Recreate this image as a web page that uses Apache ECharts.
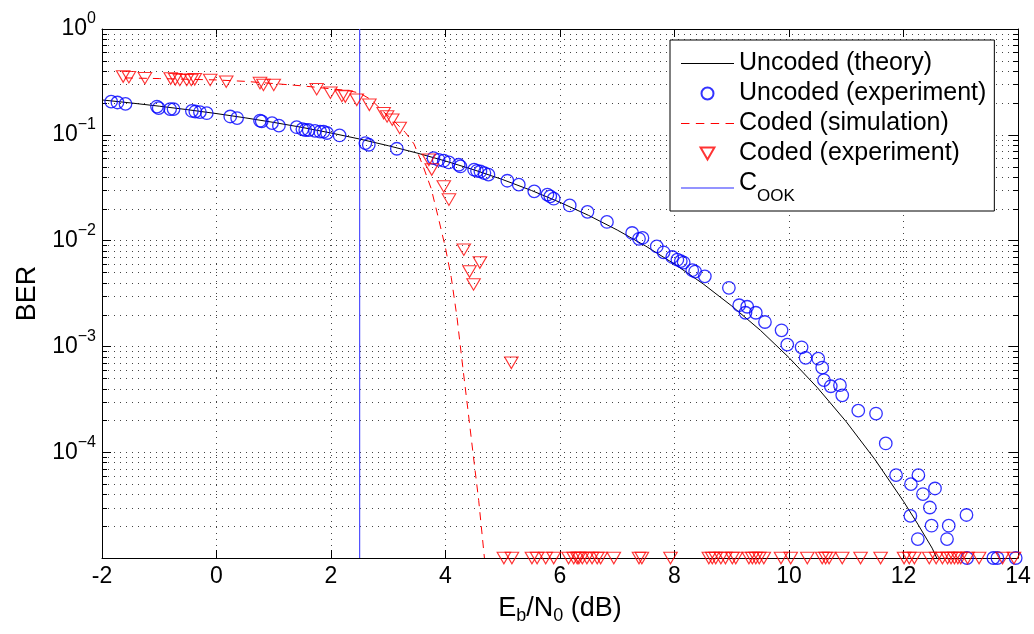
<!DOCTYPE html>
<html><head><meta charset="utf-8">
<script src="https://cdn.jsdelivr.net/npm/echarts@6/dist/echarts.min.js"></script>
<style>html,body{margin:0;padding:0;background:#fff}#c{width:1034px;height:634px}</style>
</head><body><div id="c"></div>
<script>
const FONT = '"Liberation Sans", Arial, Helvetica, sans-serif';

// ---- data ----
const floorBER = 1e-5;
const xTickLabels = ['-2','0','2','4','6','8','10','12','14'];
const yTickExponents = [0, -1, -2, -3, -4];

const theoryX = [-2,-1.5,-1,-0.5,0,0.5,1,1.5,2,2.5,3,3.5,4,4.5,5,5.5,6,6.5,7,7.5,8,8.5,9,9.5,10,10.5,11,11.5,12,12.25,12.5,12.58];
const theoryY = [0.2135,0.2001,0.1864,0.1726,0.1587,0.1447,0.1309,0.1173,0.1040,0.0912,0.0789,0.0673,0.0565,0.0466,0.0377,0.0298,0.0230,0.0173,0.01259,0.00886,0.00600,0.00390,0.00241,0.00142,7.83e-4,4.05e-4,1.94e-4,8.55e-5,3.43e-5,2.09e-5,1.24e-5,1.0e-5];

const simX = [-1.6,-1.0,-0.5,0,0.5,1.0,1.5,2.0,2.3,2.5,2.7,2.9,3.1,3.3,3.45,3.6,3.75,3.88,4.0,4.1,4.2,4.3,4.4,4.5,4.58,4.68];
const simY = [0.345,0.34,0.335,0.33,0.32,0.305,0.29,0.272,0.262,0.248,0.215,0.168,0.135,0.105,0.082,0.052,0.031,0.016,0.0085,0.0045,0.0019,6.5e-4,2.3e-4,8e-5,3.5e-5,1e-5];

const uncExpX = [-1.84,-1.73,-1.59,-1.04,-1.01,-0.81,-0.75,-0.43,-0.37,-0.29,-0.17,0.24,0.36,0.76,0.79,0.97,1.09,1.40,1.50,1.55,1.61,1.72,1.81,1.87,1.93,2.15,2.60,2.66,3.15,3.79,3.88,3.97,4.06,4.23,4.26,4.50,4.55,4.61,4.68,4.75,5.08,5.28,5.55,5.78,5.83,5.89,6.17,6.48,6.82,7.26,7.38,7.44,7.69,7.81,7.96,8.05,8.11,8.16,8.31,8.36,8.53,8.95,9.13,9.24,9.27,9.42,9.58,9.87,9.97,10.22,10.29,10.51,10.58,10.61,10.73,10.89,10.93,11.21,11.52,11.69,11.87,12.13,12.26,12.34,12.55,12.46,12.12,12.49,12.79,13.10,12.25,12.76];
const uncExpY = [0.206,0.202,0.196,0.185,0.179,0.175,0.175,0.168,0.166,0.164,0.160,0.149,0.144,0.136,0.134,0.129,0.122,0.118,0.113,0.111,0.111,0.109,0.107,0.107,0.104,0.0986,0.0835,0.0805,0.0738,0.0603,0.058,0.0569,0.0548,0.0521,0.0502,0.0468,0.0457,0.045,0.0435,0.042,0.0368,0.0338,0.0292,0.0272,0.0262,0.0249,0.0215,0.0187,0.015,0.0118,0.0104,0.0106,0.0088,0.00775,0.0070,0.0066,0.0064,0.0062,0.00525,0.0051,0.0046,0.00358,0.00245,0.00208,0.00237,0.00208,0.0017,0.00142,0.00104,0.00098,0.00078,0.000765,0.00063,0.00048,0.00042,0.00043,0.000345,0.000247,0.000232,0.000121,6.07e-5,4.99e-5,6.07e-5,4.02e-5,4.54e-5,3.0e-5,2.5e-5,2.02e-5,2.02e-5,2.55e-5,1.51e-5,1.51e-5];
const uncFloorX = [13.11,13.57,13.64,13.96];

const codExpX = [-1.63,-1.53,-1.25,-0.80,-0.72,-0.64,-0.52,-0.44,-0.38,-0.11,0.17,0.76,0.82,1.00,1.75,1.99,2.19,2.25,2.45,2.67,2.92,2.98,3.07,3.20,3.71,3.76,3.97,4.06,4.32,4.42,4.49,4.60,5.15];
const codExpY = [0.355,0.35,0.343,0.34,0.335,0.33,0.33,0.33,0.335,0.33,0.318,0.308,0.296,0.296,0.27,0.25,0.233,0.23,0.214,0.192,0.16,0.149,0.139,0.116,0.058,0.047,0.0325,0.0244,0.0082,0.0051,0.00385,0.0062,0.0007];
const codFloorX = [5.02,5.16,5.51,5.60,5.75,5.89,6.15,6.24,6.30,6.33,6.39,6.47,6.56,6.65,6.71,6.94,7.38,7.43,7.93,8.60,8.66,8.72,8.81,8.89,9.01,9.07,9.30,9.36,9.42,9.48,9.56,9.86,10.03,10.32,10.58,10.64,10.70,10.93,11.25,11.60,12.01,12.10,12.19,12.45,12.57,12.68,12.77,12.83,12.89,12.95,13.00,13.12,13.32,13.73,13.93];

const cookX = 2.5;
const seriesNames = ['Uncoded (theory)','Uncoded (experiment)','Coded (simulation)','Coded (experiment)','C_OOK'];

// ---- build ----
const zip = (xs, ys) => xs.map((x, i) => [x, ys[i]]);
const theoryData = zip(theoryX, theoryY);
const simData = zip(simX, simY);
const uncData = zip(uncExpX, uncExpY).concat(uncFloorX.map(x => [x, floorBER]));
const codData = zip(codExpX, codExpY).concat(codFloorX.map(x => [x, floorBER]));
const cookData = [[cookX, floorBER], [cookX, 1]];

const minorVals = [];
for (let e = -5; e < 0; e++) for (let m = 2; m <= 9; m++) minorVals.push(m * Math.pow(10, e));

const gridDot = { type: [1, 5], color: '#444', width: 1 };
const axisBlack = { color: '#000', width: 1 };
const solidIcon = 'path://M0,0h53v1h-53z';
const dashIcon = 'path://M0,0h8v1h-8z M14,0h8v1h-8z M28,0h8v1h-8z M42,0h8v1h-8z';

const yLabelFmt = v => {
  const e = Math.round(Math.log10(v));
  if (yTickExponents.indexOf(e) < 0) return '';
  return '{b|10}{s|' + (e < 0 ? '\u2212' + (-e) : String(e)) + '}';
};

const chart = echarts.init(document.getElementById('c'), null, { renderer: 'canvas' });
chart.setOption({
  animation: false,
  backgroundColor: '#fff',
  textStyle: { fontFamily: FONT },
  grid: { left: 102, right: 16, top: 29, bottom: 76, containLabel: false },
  xAxis: [{
    type: 'value', min: -2, max: 14, interval: 2, position: 'bottom',
    axisLine: { show: true, onZero: false, lineStyle: axisBlack },
    axisTick: { show: true, inside: true, length: 8, lineStyle: axisBlack },
    splitLine: { show: true, lineStyle: gridDot },
    axisLabel: { color: '#000', fontSize: 23, fontFamily: FONT, margin: 7,
      formatter: v => xTickLabels[Math.round((v + 2) / 2)] },
    name: '{a|E}{s|b}{a|/N}{s|0}{a| (dB)}', nameLocation: 'middle', nameGap: 35,
    nameTextStyle: { color: '#000', fontFamily: FONT, fontSize: 27,
      rich: { a: { fontSize: 27, lineHeight: 27, fontFamily: FONT, color: '#000' },
              s: { fontSize: 18, lineHeight: 27, fontFamily: FONT, color: '#000', padding: [14, 0, 0, 0] } } }
  }, {
    type: 'value', min: -2, max: 14, interval: 2, position: 'top',
    axisLine: { show: true, onZero: false, lineStyle: axisBlack },
    axisTick: { show: true, inside: true, length: 8, lineStyle: axisBlack },
    splitLine: { show: false }, axisLabel: { show: false }
  }],
  yAxis: [{
    type: 'log', logBase: 10, min: 1e-5, max: 1, position: 'left',
    axisLine: { show: true, onZero: false, lineStyle: axisBlack },
    axisTick: { show: true, inside: true, length: 9, lineStyle: axisBlack },
    splitLine: { show: true, lineStyle: gridDot },
    axisLabel: { color: '#000', margin: 6, formatter: yLabelFmt,
      rich: { b: { fontSize: 23, lineHeight: 23, fontFamily: FONT, color: '#000' },
              s: { fontSize: 16, lineHeight: 23, fontFamily: FONT, color: '#000', padding: [0, 0, 20, 0] } } },
    name: 'BER', nameLocation: 'middle', nameGap: 60, nameRotate: 90,
    nameTextStyle: { color: '#000', fontFamily: FONT, fontSize: 27 }
  }, {
    type: 'log', logBase: 10, min: 1e-5, max: 1, position: 'right',
    axisLine: { show: true, onZero: false, lineStyle: axisBlack },
    axisTick: { show: true, inside: true, length: 9, lineStyle: axisBlack },
    splitLine: { show: false }, axisLabel: { show: false }
  }],
  legend: {
    data: [
      { name: seriesNames[0], icon: solidIcon, itemStyle: { color: '#000000', borderWidth: 0 } },
      { name: seriesNames[1] },
      { name: seriesNames[2], icon: dashIcon, itemStyle: { color: '#ff0000', borderWidth: 0 } },
      { name: seriesNames[3] },
      { name: seriesNames[4], icon: solidIcon, itemStyle: { color: '#2a2aff', borderWidth: 0 } }
    ],
    orient: 'vertical', left: 670, top: 40,
    backgroundColor: '#fff', borderColor: '#000', borderWidth: 1, borderRadius: 0,
    padding: [11, 8, 6, 11], itemGap: 5, itemWidth: 53, itemHeight: 12,
    selectedMode: false,
    formatter: n => n === 'C_OOK' ? '{c|C}{o|OOK}' : '{t|' + n + '}',
    textStyle: { color: '#000', fontFamily: FONT, fontSize: 25, lineHeight: 25,
      rich: { t: { fontSize: 25, lineHeight: 25, fontFamily: FONT, color: '#000' },
              c: { fontSize: 25, lineHeight: 34, fontFamily: FONT, color: '#000', verticalAlign: 'top' },
              o: { fontSize: 17, lineHeight: 34, fontFamily: FONT, color: '#000', verticalAlign: 'bottom' } } }
  },
  series: [
    {
      type: 'custom', z: 1, silent: true, clip: false,
      data: minorVals.map(v => [0, v]),
      renderItem: (params, api) => {
        const cs = params.coordSys;
        const y = Math.round(api.coord([0, api.value(1)])[1]) + 0.5;
        return { type: 'group', children: [
          { type: 'line', shape: { x1: cs.x, y1: y, x2: cs.x + cs.width, y2: y }, style: { stroke: '#444', lineWidth: 1, lineDash: [1, 5] } },
          { type: 'line', shape: { x1: cs.x, y1: y, x2: cs.x + 5, y2: y }, style: { stroke: '#000', lineWidth: 1 } },
          { type: 'line', shape: { x1: cs.x + cs.width - 5, y1: y, x2: cs.x + cs.width, y2: y }, style: { stroke: '#000', lineWidth: 1 } }
        ] };
      }
    },
    { name: seriesNames[0], type: 'line', data: theoryData, symbol: 'none', showSymbol: false, color: '#000',
      lineStyle: { color: '#000', width: 1 }, z: 3 },
    { name: seriesNames[1], type: 'scatter', data: uncData, symbol: 'circle', symbolSize: 12.5, clip: false, z: 4,
      itemStyle: { color: 'rgba(0,0,0,0)', borderColor: '#0000ff', borderWidth: 1.3 } },
    { name: seriesNames[2], type: 'line', data: simData, symbol: 'none', showSymbol: false, color: '#ff0000',
      lineStyle: { color: '#ff0000', width: 1, type: [8, 6] }, z: 3 },
    { name: seriesNames[3], type: 'scatter', data: codData, symbol: 'path://M0,0L10,0L5,8.66Z', symbolSize: [13.5, 11.5], clip: false, z: 5,
      itemStyle: { color: 'rgba(0,0,0,0)', borderColor: '#ff0000', borderWidth: 1.1 } },
    { name: seriesNames[4], type: 'line', data: cookData, symbol: 'none', showSymbol: false, color: '#4f4fff',
      lineStyle: { color: '#4f4fff', width: 1.2 }, z: 3 }
  ]
});
</script>
</body></html>
